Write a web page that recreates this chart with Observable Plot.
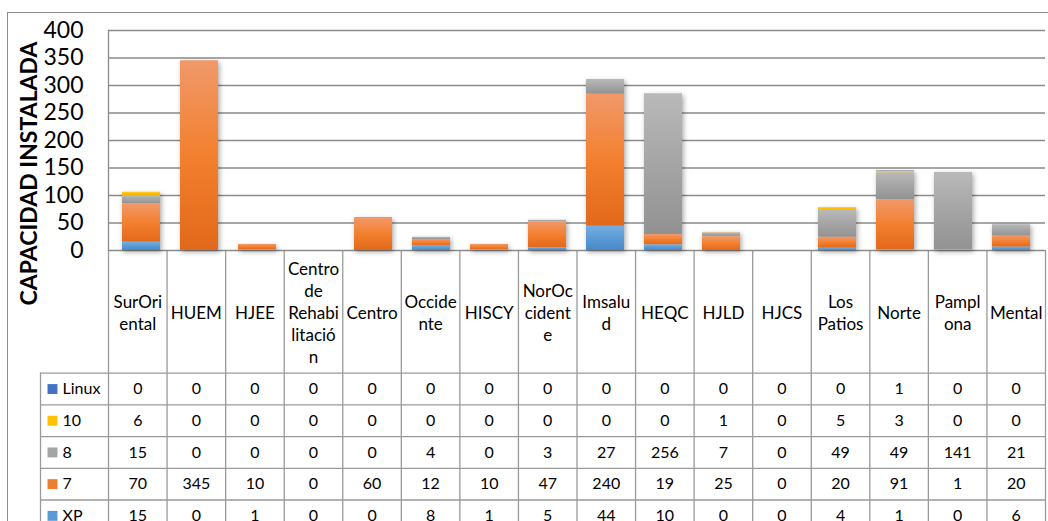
<!DOCTYPE html>
<html><head><meta charset="utf-8">
<script src="https://cdn.jsdelivr.net/npm/d3@7"></script>
<script src="https://cdn.jsdelivr.net/npm/@observablehq/plot@0.6"></script>
<style>
html,body{margin:0;padding:0;background:#fff;}
#wrap{position:relative;width:1048px;height:521px;overflow:hidden;font-family:Lato,sans-serif;}
#wrap svg{position:absolute;left:0;top:0;}
#border{position:absolute;left:7px;top:12px;width:1100px;height:600px;border-left:1.5px solid #8c8c8c;border-top:1.5px solid #8c8c8c;}
</style></head><body><div id="wrap"><div id="border"></div></div>
<script>
const categories = ["SurOriental","HUEM","HJEE","Centro de Rehabilitación","Centro","Occidente","HISCY","NorOccidente","Imsalud","HEQC","HJLD","HJCS","Los Patios","Norte","Pamplona","Mental"];
const headerLabels = ["SurOri\nental","HUEM","HJEE","Centro\nde\nRehabi\nlitació\nn","Centro","Occide\nnte","HISCY","NorOc\ncident\ne","Imsalu\nd","HEQC","HJLD","HJCS","Los\nPatios","Norte","Pampl\nona","Mental"];
const seriesNames = ["Linux","10","8","7","XP"];
const linux = [0,0,0,0,0,0,0,0,0,0,0,0,0,1,0,0];
const win10 = [6,0,0,0,0,0,0,0,0,0,1,0,5,3,0,0];
const win8  = [15,0,0,0,0,4,0,3,27,256,7,0,49,49,141,21];
const win7  = [70,345,10,0,60,12,10,47,240,19,25,0,20,91,1,20];
const xp    = [15,0,1,0,0,8,1,5,44,10,0,0,4,1,0,6];
const yTicks = [0,50,100,150,200,250,300,350,400];
const yTitle = "CAPACIDAD INSTALADA";
const stackOrder = ["XP","7","8","10","Linux"];

const valuesBySeries = {"Linux": linux, "10": win10, "8": win8, "7": win7, "XP": xp};
const gradKey = {"Linux":"linux","10":"w10","8":"w8","7":"w7","XP":"xp"};
const gradStops = {
  linux: ["#5A86D0","#4472C4","#3A62AE"],
  w10: ["#FFCB33","#FFC000","#EDB200"],
  w8: ["#B9B9B9","#A5A5A5","#929292"],
  w7: ["#F0996A","#F3802F","#E2681A"],
  xp: ["#74AEE2","#5B9BD5","#4A88C8"]
};
const legendColor = {"Linux":"#4472C4","10":"#FFC000","8":"#A5A5A5","7":"#ED7D31","XP":"#5B9BD5"};

function addDefs(svg) {
  const defs = d3.select(svg).insert("defs", ":first-child");
  for (const [k, stops] of Object.entries(gradStops)) {
    const g = defs.append("linearGradient").attr("id", "grad-" + k)
      .attr("x1", 0).attr("y1", 0).attr("x2", 0).attr("y2", 1);
    g.append("stop").attr("offset", "0%").attr("stop-color", stops[0]);
    g.append("stop").attr("offset", "50%").attr("stop-color", stops[1]);
    g.append("stop").attr("offset", "100%").attr("stop-color", stops[2]);
  }
  const f = defs.append("filter").attr("id", "shadow")
    .attr("x", "-10%").attr("y", "-10%").attr("width", "120%").attr("height", "130%");
  f.append("feDropShadow").attr("dx", 1.5).attr("dy", 2).attr("stdDeviation", 2.5)
    .attr("flood-color", "#000").attr("flood-opacity", 0.35);
}

const rows = [];
categories.forEach((c, i) => {
  seriesNames.forEach(s => rows.push({cat: c, s, v: valuesBySeries[s][i]}));
});

const chart = Plot.plot({
  width: 1048, height: 521,
  marginTop: 30, marginBottom: 271, marginLeft: 108, marginRight: 3,
  style: {fontFamily: "Lato, sans-serif", background: "transparent", color: "#000"},
  x: {domain: categories, paddingInner: 0.344, paddingOuter: 0.172, axis: null},
  y: {domain: [0, 400], axis: null},
  color: {type: "identity"},
  marks: [
    Plot.gridY(yTicks, {stroke: "#8a8a8a", strokeOpacity: 1, strokeWidth: 1.3}),
    Plot.frame({anchor: "left", stroke: "#8a8a8a", strokeWidth: 1.3}),
    Plot.barY(rows, {x: "cat", y: "v", z: "s", order: stackOrder,
      fill: d => `url(#grad-${gradKey[d.s]})`}),
    Plot.axisY(yTicks, {tickSize: 0, tickPadding: 25, fontSize: 23, label: null}),
    Plot.text([yTitle], {frameAnchor: "left", textAnchor: "middle", text: d => d, rotate: -90,
      dx: -79, dy: 33, fontSize: 23, fontWeight: "bold"})
  ]
});
addDefs(chart);
d3.select(chart).selectAll('g[aria-label="bar"]').attr("filter", "url(#shadow)");

// data table
const hdr = -3.87;          // header height in row units
const legendLeft = -1.1614; // legend column width in column units
const cells = [];
seriesNames.forEach((s, r) => categories.forEach((c, i) => cells.push({r, i, v: valuesBySeries[s][i]})));
const lineColor = "#9a9a9a";

const table = Plot.plot({
  width: 1048, height: 521,
  style: {fontFamily: "Lato, sans-serif", background: "transparent", color: "#000"},
  x: {type: "linear", domain: [legendLeft, categories.length], range: [40, 1045], axis: null},
  y: {type: "linear", domain: [hdr, seriesNames.length], range: [250, 531.2], axis: null},
  marks: [
    Plot.ruleX(d3.range(categories.length + 1), {y1: hdr, y2: seriesNames.length, stroke: lineColor, strokeWidth: 1.3}),
    Plot.ruleX([legendLeft], {y1: 0, y2: seriesNames.length, stroke: lineColor, strokeWidth: 1.3}),
    Plot.ruleY(d3.range(seriesNames.length + 1), {x1: legendLeft, x2: categories.length, stroke: lineColor, strokeWidth: 1.3}),
    Plot.text(headerLabels, {x: (d, i) => i + 0.5, y: hdr / 2, text: d => d, fontSize: 17, lineHeight: 1.3}),
    Plot.text(cells, {x: d => d.i + 0.5, y: d => d.r + 0.5, text: d => String(d.v), fontSize: 16}),
    Plot.dot(seriesNames, {x: legendLeft, y: (d, r) => r + 0.5, dx: 12, symbol: "square", r: 5.6,
      fill: d => legendColor[d]}),
    Plot.text(seriesNames, {x: legendLeft, y: (d, r) => r + 0.5, dx: 22, textAnchor: "start",
      text: d => d, fontSize: 16})
  ]
});

const wrap = document.getElementById("wrap");
wrap.appendChild(table);
wrap.appendChild(chart);
</script>
</body></html>
